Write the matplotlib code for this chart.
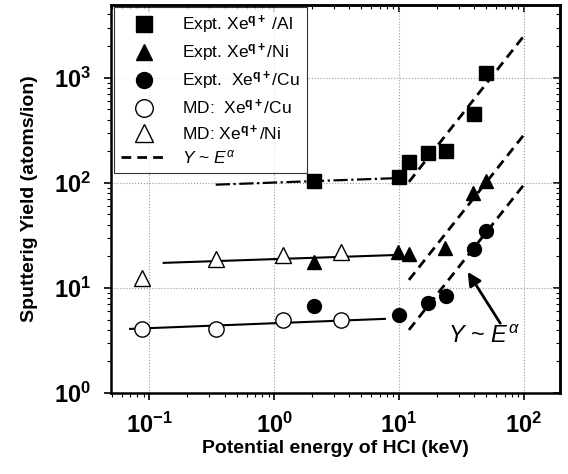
import matplotlib
matplotlib.use('Agg')
import matplotlib.pyplot as plt
import matplotlib.ticker as mticker
import numpy as np

plt.rcParams['font.family'] = ['Liberation Sans', 'DejaVu Sans']
plt.rcParams['mathtext.fontset'] = 'custom'
plt.rcParams['mathtext.rm'] = 'Liberation Sans'
plt.rcParams['mathtext.it'] = 'Liberation Sans:italic'
plt.rcParams['mathtext.bf'] = 'Liberation Sans:bold'

# experimental data (keV, atoms/ion)
al_E = [2.1, 10, 12, 17, 24, 40, 50]
al_Y = [103, 113, 158, 193, 202, 455, 1110]
ni_E = [2.1, 9.8, 12, 23.5, 39, 50]
ni_Y = [17.7, 22, 21, 24, 80, 103]
cu_E = [2.1, 10, 17, 24, 40, 50]
cu_Y = [6.7, 5.5, 7.2, 8.4, 23.5, 35]

# MD simulation
md_cu_E = [0.088, 0.344, 1.18, 3.44]
md_cu_Y = [4.07, 4.07, 4.96, 4.96]
md_ni_E = [0.088, 0.344, 1.18, 3.44]
md_ni_Y = [12.4, 18.9, 20.6, 22]

# guide lines (end points)
al_flat_E = [0.34, 10]
al_flat_Y = [96, 111]
ni_flat_E = [0.13, 10]
ni_flat_Y = [17.3, 20.6]
cu_flat_E = [0.07, 7.7]
cu_flat_Y = [4.07, 5.07]
al_pow_E = [12, 100]
al_pow_Y = [102, 2500]
ni_pow_E = [12, 100]
ni_pow_Y = [11.9, 286]
cu_pow_E = [12, 100]
cu_pow_Y = [3.98, 95.7]

fig = plt.figure(figsize=(5.68, 4.74), dpi=100)
ax = fig.add_axes([0.195, 0.171, 0.791, 0.818])
ax.set_xscale('log')
ax.set_yscale('log')
ax.set_xlim(0.049, 195)
ax.set_ylim(1, 4900)

ax.grid(True, which='major', linestyle=':', color='#999999', linewidth=0.8)
ax.set_axisbelow(True)

dash = (0, (3.5, 2.2))
# fit lines
ax.plot(al_flat_E, al_flat_Y, color='black', linestyle='-.', linewidth=1.6)
ax.plot(ni_flat_E, ni_flat_Y, color='black', linestyle='-', linewidth=1.5)
ax.plot(cu_flat_E, cu_flat_Y, color='black', linestyle='-', linewidth=1.5)
ax.plot(al_pow_E, al_pow_Y, color='black', linestyle=dash, linewidth=2)
ax.plot(ni_pow_E, ni_pow_Y, color='black', linestyle=dash, linewidth=2)
ax.plot(cu_pow_E, cu_pow_Y, color='black', linestyle=dash, linewidth=2)

ax.plot(al_E, al_Y, 's', color='black', markersize=10, label=r'Expt. Xe$^{\mathbf{q+}}$ /Al', zorder=5)
ax.plot(ni_E, ni_Y, '^', color='black', markersize=10, label=r'Expt. Xe$^{\mathbf{q+}}$/Ni', zorder=5)
ax.plot(cu_E, cu_Y, 'o', color='black', markersize=10, label=r'Expt.  Xe$^{\mathbf{q+}}$/Cu', zorder=5)
ax.plot(md_cu_E, md_cu_Y, 'o', mfc='white', mec='black', mew=1.0, markersize=11,
        label=r'MD:  Xe$^{\mathbf{q+}}$/Cu', zorder=5)
ax.plot(md_ni_E, md_ni_Y, '^', mfc='white', mec='black', mew=1.0, markersize=11,
        label=r'MD: Xe$^{\mathbf{q+}}$/Ni', zorder=5)
ax.plot([], [], color='black', linestyle=dash, linewidth=2, label=r'$Y$ ~ $E^{\alpha}$')

leg = ax.legend(loc='upper left', bbox_to_anchor=(0.008, 0.995), borderaxespad=0,
                fontsize=12.5, frameon=True, fancybox=False, edgecolor='black',
                handlelength=2.6, handletextpad=0.9, labelspacing=0.33, borderpad=0.4,
                markerscale=1.15)
leg.get_frame().set_linewidth(0.8)

ax.annotate(r'$Y$ ~ $E^{\alpha}$', xy=(35.5, 14.2), xytext=(48, 3.4),
            fontsize=17, ha='center', va='center',
            arrowprops=dict(arrowstyle='-|>', color='black', lw=2, mutation_scale=20,
                            shrinkA=0, shrinkB=0, relpos=(0.75, 1.0)))

fmt = mticker.FuncFormatter(lambda v, p: r'$\mathbf{10^{%d}}$' % round(np.log10(v)))
ax.xaxis.set_major_formatter(fmt)
ax.yaxis.set_major_formatter(fmt)
ax.xaxis.set_major_locator(mticker.LogLocator(base=10, numticks=10))
ax.yaxis.set_major_locator(mticker.LogLocator(base=10, numticks=10))
ax.tick_params(axis='both', which='major', labelsize=17, direction='out', length=5, width=1.2,
               top=False, right=False)
ax.tick_params(axis='x', which='major', pad=9)
ax.tick_params(axis='y', which='major', pad=9)
ax.tick_params(axis='both', which='minor', direction='out', length=3, width=0.8,
               top=False, right=False)

# inward ticks on top and right
secx = ax.secondary_xaxis('top')
secx.tick_params(which='major', direction='in', length=5, width=1.2, labeltop=False)
secx.tick_params(which='minor', direction='in', length=3, width=0.8)
secx.xaxis.set_major_formatter(mticker.NullFormatter())
secy = ax.secondary_yaxis('right')
secy.tick_params(which='major', direction='in', length=5, width=1.2, labelright=False)
secy.tick_params(which='minor', direction='in', length=3, width=0.8)
secy.yaxis.set_major_formatter(mticker.NullFormatter())
for s in ['top', 'right', 'left', 'bottom']:
    ax.spines[s].set_linewidth(1.8)
secx.spines['top'].set_linewidth(1.8)
secy.spines['right'].set_linewidth(1.8)

ax.set_xlabel('Potential energy of HCI (keV)', fontsize=14, fontweight='bold', labelpad=2)
ax.set_ylabel('Sputterig Yield (atoms/ion)', fontsize=14, fontweight='bold', labelpad=12)

plt.savefig('out.png', dpi=100)
